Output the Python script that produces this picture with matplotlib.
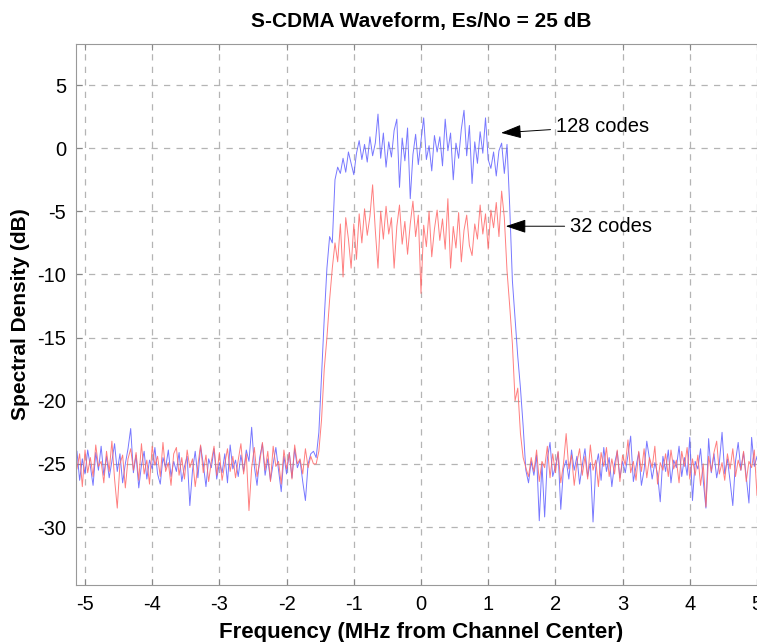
import numpy as np
import matplotlib.pyplot as plt

plt.rcParams['font.family'] = ['Liberation Sans', 'DejaVu Sans']
plt.rcParams['axes.unicode_minus'] = False

# frequency grid (MHz from channel center), 0.04 MHz steps
freq = np.round(np.arange(-5.12, 5.1201, 0.04), 2)

# 128 codes (blue), dB
codes128 = [
    -24.0, -26.3, -24.6, -25.8, -23.9, -25.2, -26.7, -24.1, -25.5, -23.6,
    -25.9, -24.4, -26.1, -24.8, -23.4, -25.6, -24.2, -26.5, -25.0, -23.8,
    -22.2, -25.7, -24.3, -26.9, -25.1, -24.0, -26.2, -24.7, -25.4, -23.7,
    -25.8, -26.6, -24.5, -25.3, -23.9, -26.0, -24.8, -25.6, -24.1, -26.4,
    -25.2, -24.4, -28.3, -25.5, -24.0, -26.1, -23.6, -25.0, -26.8, -24.6,
    -25.3, -23.8, -26.2, -24.9, -25.7, -24.2, -26.5, -23.5, -25.4, -24.7,
    -26.0, -24.3, -25.6, -23.9, -24.8, -22.1, -25.2, -26.7, -24.5, -23.4,
    -25.9, -24.6, -26.3, -25.0, -23.7, -25.5, -27.2, -24.4, -25.8, -24.1,
    -26.1, -23.8, -25.3, -24.7, -26.4, -27.9, -25.0, -24.2, -24.0,
    # rising edge
    -24.5, -22.5, -18.0, -13.5, -9.5, -7.0, -7.5, -2.5, -1.5,
    # passband
    -2.0, -0.8, -1.9, -0.3, -1.2, -2.1, -0.4, 0.6, -0.9, 0.3,
    -1.1, 0.9, -0.6, 0.4, 2.7, -0.8, 1.2, -1.5, 0.5, -0.7,
    1.4, 2.3, -3.1, 0.8, -1.0, 1.6, -4.0, -0.5, 1.1, -1.3,
    0.6, 2.4, -0.9, 0.2, -1.8, 1.0, -0.3, 0.9, -1.4, 2.3,
    -0.2, 1.2, -2.5, 0.4, -0.8, 1.5, 3.0, -0.6, 1.8, -2.8,
    0.5, -1.2, 1.3, -0.4, 2.4, -0.9, -1.6, -0.3, -2.2, -0.2,
    # falling edge
    0.4, -2.0, 0.3, -4.6, -10.5, -13.5, -16.5, -19.0, -22.0, -25.5,
    # noise floor right
    -26.5, -24.8, -25.9, -24.3, -29.5, -25.0, -29.2, -24.6, -23.3, -26.0,
    -25.2, -24.1, -28.6, -25.4, -24.7, -26.2, -23.9, -25.5, -24.4, -26.6,
    -25.1, -23.8, -26.0, -24.9, -29.6, -25.3, -24.2, -26.3, -23.7, -25.6,
    -24.5, -26.8, -25.0, -24.0, -26.1, -24.8, -25.7, -24.3, -22.8, -26.4,
    -25.2, -24.1, -26.7, -25.5, -23.2, -24.6, -26.2, -24.9, -25.8, -28.0,
    -24.4, -25.6, -23.9, -26.5, -24.7, -25.3, -23.6, -26.0, -24.5, -25.9,
    -22.9, -27.9, -24.8, -25.4, -23.8, -26.3, -28.5, -23.0, -25.7, -24.2,
    -26.1, -24.9, -22.5, -25.8, -24.6, -26.4, -28.3, -24.8, -23.3, -25.5,
    -24.1, -26.0, -28.1, -22.9, -25.2, -24.4, -26.2, -23.7, -24.6,
]

# 32 codes (red), dB
codes32 = [
    -25.4, -24.2, -26.8, -23.9, -25.7, -24.5, -26.0, -23.5, -25.2, -24.8,
    -26.5, -24.0, -25.6, -23.2, -26.2, -28.5, -25.0, -24.3, -26.9, -24.6,
    -23.8, -25.5, -24.1, -26.3, -23.4, -25.8, -24.7, -26.6, -23.6, -25.1,
    -24.4, -26.0, -23.3, -25.6, -24.9, -26.7, -24.2, -23.7, -25.9, -24.5,
    -26.2, -23.9, -25.3, -24.6, -26.8, -25.1, -23.5, -25.7, -24.3, -26.4,
    -24.8, -23.6, -25.9, -24.1, -26.3, -25.0, -23.8, -25.6, -24.4, -26.1,
    -24.7, -23.4, -25.8, -24.2, -28.7, -25.3, -23.7, -26.0, -24.9, -23.3,
    -25.5, -24.0, -26.4, -23.6, -25.2, -24.8, -26.6, -23.9, -25.4, -24.1,
    -26.2, -23.5, -25.0, -24.6, -25.8, -23.8, -25.3, -24.4, -25.0,
    # rising edge
    -25.0, -24.0, -21.5, -17.5, -15.0, -12.0, -9.5, -7.5, -9.0,
    # passband
    -6.0, -10.2, -5.5, -7.2, -9.5, -6.0, -8.8, -5.2, -7.5, -4.8,
    -6.9, -5.4, -2.9, -6.5, -9.5, -5.0, -7.2, -4.6, -6.8, -5.5,
    -9.5, -6.2, -4.5, -7.6, -5.8, -8.4, -6.0, -4.2, -7.0, -5.3,
    -11.5, -6.1, -7.8, -5.0, -8.6, -6.4, -4.9, -7.3, -5.6, -8.0,
    -4.0, -9.5, -6.2, -7.9, -5.1, -9.0, -6.5, -5.3, -7.7, -8.5,
    -6.0, -7.2, -4.5, -6.8, -5.2, -8.0, -4.9, -6.3, -4.3, -7.0,
    # falling edge
    -3.4, -5.5, -9.7, -12.5, -15.5, -20.0, -19.0, -22.6, -24.5, -25.3,
    # noise floor right
    -26.0, -24.5, -25.6, -23.9, -26.4, -24.8, -25.3, -23.6, -26.1, -24.2,
    -25.7, -24.0, -26.5, -25.0, -22.6, -25.4, -24.3, -26.7, -24.9, -23.8,
    -25.9, -24.4, -26.2, -23.5, -25.5, -24.7, -26.8, -24.1, -25.2, -23.7,
    -26.0, -24.6, -25.8, -23.9, -26.4, -24.3, -25.1, -23.1, -25.7, -24.8,
    -26.3, -24.0, -25.6, -23.8, -26.1, -24.5, -25.3, -23.6, -26.6, -24.9,
    -25.5, -24.2, -26.0, -23.9, -25.4, -24.7, -26.5, -24.0, -25.2, -23.7,
    -26.2, -24.6, -25.9, -24.3, -26.7, -25.0, -28.4, -24.4, -25.6, -24.1,
    -23.2, -25.8, -24.9, -26.3, -24.2, -25.4, -23.8, -26.0, -24.7, -25.5,
    -24.0, -26.4, -24.8, -25.3, -23.9, -27.5, -24.5, -25.7, -24.3,
]

fig = plt.figure(figsize=(7.57, 6.42), dpi=100)
ax = fig.add_axes([76 / 757, 57 / 642, 690 / 757, 541 / 642])

ax.plot(freq, codes128, color='#6060ff', lw=0.7, alpha=0.85)
ax.plot(freq, codes32, color='#ff6868', lw=0.7, alpha=0.85)

ax.set_xlim(-5.134, 5.134)
ax.set_ylim(-34.59, 8.25)
ax.set_xticks(range(-5, 6))
ax.set_yticks(range(-30, 6, 5))
ax.grid(True, color='#b4b4b4', linestyle=(0, (5, 5)), lw=0.9)
ax.tick_params(direction='in', top=True, right=True, labelsize=14.5,
               length=4, color='#888888', pad=7)
for s in ax.spines.values():
    s.set_color('#999999')

ax.set_title('S-CDMA Waveform, Es/No = 25 dB', fontsize=15,
             fontweight='bold', pad=12)
ax.set_xlabel('Frequency (MHz from Channel Center)', fontsize=16,
              fontweight='bold', labelpad=6)
ax.set_ylabel('Spectral Density (dB)', fontsize=15, fontweight='bold',
              labelpad=5)

arrow = dict(arrowstyle='-|>,head_length=0.9,head_width=0.3', color='black',
             lw=0.7, mutation_scale=14)
ax.annotate('128 codes', xy=(1.15, 1.2), xytext=(2.01, 1.74),
            fontsize=14.5, va='center', arrowprops=arrow)
ax.annotate('32 codes', xy=(1.22, -6.18), xytext=(2.22, -6.18),
            fontsize=14.5, va='center', arrowprops=arrow)

fig.savefig('out.png', dpi=100)
